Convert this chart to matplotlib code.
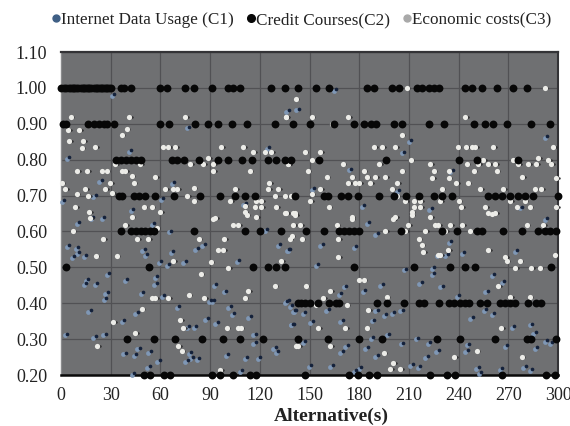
import numpy as np
import matplotlib
matplotlib.use("Agg")
import matplotlib.pyplot as plt
from matplotlib.lines import Line2D
from matplotlib.transforms import ScaledTranslation

plt.rcParams['font.family'] = ['Liberation Serif', 'DejaVu Serif']

# C2 is read row by row, the values sit on the grid
c2_100 = [0, 2, 3, 5, 6, 7, 8, 9, 10, 12, 13, 14, 15, 16, 17, 18, 20, 21, 22, 23, 24, 25, 26, 27, 28, 29, 30, 36, 38, 42,
          60, 64, 75, 80, 91, 101, 104, 108, 127, 135, 143, 154, 162, 185, 189, 200, 204, 215, 218, 222, 225, 228,
          244, 248, 254, 263, 273, 281]
c2_090 = [1, 3, 16, 20, 23, 26, 28, 32, 60, 65, 81, 89, 95, 103, 112, 129, 140, 150, 165, 177, 183, 187, 190,
          201, 206, 222, 231, 249, 256, 261, 269, 284, 295]
c2_080 = [33, 36, 39, 42, 45, 48, 67, 70, 74, 83, 95, 101, 109, 115, 125, 130, 135, 139, 156, 196, 240, 251, 276]
c2_070 = [35, 37, 44, 47, 51, 57, 68, 84, 96, 105, 111, 117, 141, 159, 161, 169, 173, 179, 192,
          201, 208, 216, 225, 230, 236, 258, 262, 266, 271, 276, 280, 285, 300]
c2_060 = [36, 42, 45, 48, 51, 54, 56, 80, 111, 120, 133, 148, 159, 168, 171, 174, 177, 180, 205, 230, 239,
          251, 254, 267, 278, 288, 292, 295, 299]
c2_050 = [3, 53, 116, 125, 130, 135, 177, 213, 235, 244, 250, 296]
c2_040 = [143, 145, 147, 150, 155, 162, 166, 168, 191, 197, 207, 216, 219, 228, 234, 237, 241, 244, 246,
          253, 257, 265, 268, 271, 274, 282, 287, 290]
c2_030 = [40, 56, 69, 85, 98, 108, 122, 143, 161, 180, 194, 227, 241, 262, 281, 284, 299]
c2_020 = [50, 54, 62, 66, 91, 96, 104, 114, 118, 147, 174, 179, 186, 191, 223, 233, 238, 266, 293, 298]

# C3 pale points
c3_pts = [(5.8, .919), (4.4, .884), (10.9, .884), (4.8, .852), (13.5, .852), (12.5, .833), (20.5, .835), (30, .9),
          (41, .919), (39.6, .886), (36.6, .868), (75, .919), (61.8, .835), (64.8, .835), (68.8, .835), (96.6, .835),
          (110, .835), (116, .82), (123, .82), (127, .82), (135.6, .92), (141.6, .968), (89, .805), (86, .787),
          (92, .787), (92, .768), (78, .787), (114, .768), (137, .787), (32.6, .787), (36.6, .768), (38.6, .768),
          (47.7, .787), (42.7, .755), (44, .736), (57, .753), (9.9, .768), (15.9, .768), (24.5, .768), (27.6, .768),
          (.4, .736), (2.4, .718), (9.5, .704), (14.5, .718), (16.5, .7), (29.6, .736), (26.5, .718), (31, .706),
          (62.8, .718), (67.8, .718), (70, .718), (76, .7), (80, .72), (80, .685), (102, .685), (105, .718),
          (118, .685), (121, .685), (117, .667), (121, .667), (125.7, .736), (125, .718), (131, .718), (129, .7),
          (135, .7), (139, .7), (130, .667), (135, .651), (140, .651), (8.5, .669), (50, .669), (54.7, .669),
          (17, .653), (60, .653), (42.7, .639), (111, .653), (111, .67), (118, .639), (92, .634),
          (136, .92), (151.4, .919), (173.5, .919), (163.5, .9), (208.7, 1.0), (292, 1.0), (205.7, .868), (189, .835),
          (194, .835), (201.7, .835), (239.5, .835), (244.6, .835), (248, .835), (250, .835), (261, .835), (297, .835),
          (244, .919), (147, .82), (156.4, .82), (151.4, .798), (137.3, .787), (170, .787), (192, .787), (211, .8),
          (222.8, .787), (245, .787), (255, .8), (252, .787), (258, .787), (262, .787), (273, .8), (276, .787),
          (282, .787), (287, .787), (288, .806), (294, .8), (296, .787), (149, .768), (160.5, .753), (175.5, .753),
          (182.6, .768), (184.6, .753), (189.6, .753), (195.7, .753), (205.7, .768), (225, .768), (224, .75),
          (234, .768), (234, .75), (238.5, .736), (245.6, .736), (249, .768), (263, .768), (278.5, .753), (299, .75),
          (173.5, .736), (177.5, .736), (180, .736), (186.6, .736), (203, .736), (156.4, .718), (151.4, .704),
          (150.4, .685), (199.7, .718), (229.9, .718), (253, .718), (267, .718), (286, .718), (290, .718), (202.7, .7),
          (207.7, .685), (212.8, .685), (216.8, .685), (212.8, .667), (216.8, .667), (211.8, .653), (228.9, .685),
          (240, .685), (241.5, .667), (271, .685), (280, .685), (275, .667), (283, .667), (256, .667), (161.5, .667),
          (258, .651), (262, .651), (136, .651), (141, .651), (299, .667), (222.8, .639), (175.5, .639), (201.7, .639),
          (7, .6), (17.5, .637), (25.5, .58), (38.6, .617), (46, .58), (52.7, .58), (57.7, .61), (93, .637),
          (104, .617), (107, .617), (112, .646), (83, .58), (98.4, .58), (95, .549), (98, .549), (138, .58), (140, .617),
          (21, .532), (33.6, .532), (67.8, .517), (90.3, .515), (101, .498), (133, .517), (84.3, .482), (129, .447),
          (54.7, .415), (56.7, .415), (64.8, .415), (77, .424), (86.3, .415), (113, .433), (111, .415), (48.7, .383),
          (31.6, .347), (71.8, .352), (73.8, .331), (100, .331), (107, .331), (108.5, .331), (44.7, .316), (22, .282),
          (70.8, .282), (72.8, .267), (96, .213), (142, .282),
          (141.3, .646), (144.4, .617), (139.3, .586), (145.4, .58), (166.5, .617), (167.5, .58), (175.5, .635),
          (200.7, .635), (195.7, .6), (211.8, .646), (209.7, .617), (207.7, .6), (219.8, .6), (215.8, .58), (217.8, .563),
          (218.8, .544), (225.8, .617), (227.8, .617), (231.9, .6), (234.9, .617), (233.9, .549), (242, .617), (247, .6),
          (258, .549), (260, .648), (281, .617), (291, .617), (167.5, .53), (227.5, .535), (228.9, .535), (268, .53),
          (269, .517), (277, .517), (274, .498), (284, .498), (289, .498), (298, .533), (147.8, .447), (182.6, .466),
          (180, .466), (162.5, .433), (158.4, .415), (153.8, .396), (172.5, .396), (196.7, .417), (264, .447), (271, .417),
          (283, .417), (185.6, .382), (155.4, .331), (171.5, .331), (184.6, .331), (265.7, .331), (143.3, .282),
          (162.5, .282), (194.7, .262), (251, .267), (237.5, .25), (278, .25), (200.7, .234), (198.7, .216), (204.7, .216)]

# C1 dark points with the blue rim
c1_pts = [(31.6, .981), (4.4, .806), (1.4, .685), (42, .824), (77, .89), (67.8, .736), (24, .741), (20.5, .7), (125, .833),
          (137, .935), (143, .94), (43, .659), (19, .637), (25.5, .637), (111, .676), (61, .69),
          (165.5, .995), (293, .863), (210.8, .852), (206.7, .82), (174.5, .773), (152.4, .718), (203.7, .713),
          (235.9, .768), (182.6, .672), (223.2, .663), (278, .667), (292.8, .634),
          (10.5, .623), (55.7, .62), (65.8, .6), (4.4, .56), (9.9, .554), (10.5, .54), (7.4, .53), (14.5, .532),
          (86.3, .563), (82, .552), (131.8, .563), (138, .549), (124, .605), (50, .549), (51.7, .535), (67.2, .542),
          (59.8, .515), (64.8, .507), (74.8, .515), (107, .519), (15.9, .466), (14.5, .454), (21.5, .454), (28.6, .482),
          (39.6, .466), (57.7, .473), (57.3, .454), (27.6, .429), (26.6, .413), (49.3, .429), (61.8, .42), (70.8, .39),
          (93, .45), (99, .433), (92, .406), (90, .406), (102, .39), (104, .371), (17.5, .378), (45.7, .373), (88, .356),
          (94, .345), (114, .361), (37.6, .35), (81, .333), (77, .333), (136, .404), (139, .392), (141, .378), (140, .341),
          (3.4, .313), (20.5, .306), (26.5, .313), (117, .313), (117, .29), (47, .274), (44.7, .257), (38.6, .26),
          (53.7, .264), (59, .239), (53, .223), (43.7, .202), (78, .262), (79, .248), (76, .239), (83, .245), (100.6, .256),
          (112, .248), (119.7, .248), (129, .276), (130.6, .265), (109, .211),
          (137.3, .549), (157.4, .563), (177.5, .558), (185.6, .623), (190.6, .593), (154.8, .506), (207.7, .494),
          (224.8, .498), (224.8, .482), (234.9, .57), (227.8, .533), (232.9, .535), (243, .54), (275, .546), (171.5, .447),
          (168.5, .426), (183.2, .435), (193.6, .452), (217.2, .456), (229.9, .447), (257, .433), (261, .48), (267, .459),
          (137, .406), (141.3, .378), (147, .373), (161, .382), (190.6, .38), (195.7, .367), (200.7, .373), (205.7, .38),
          (188.6, .352), (169.5, .35), (151.4, .348), (139.7, .341), (248, .359), (256, .382), (261, .371), (273, .333),
          (284, .341), (286, .318), (197.7, .313), (188, .304), (184.6, .276), (172.5, .28), (169.5, .265), (147, .293),
          (206, .288), (215.2, .302), (222.4, .29), (269, .282), (287, .276), (293, .294), (296, .29), (246, .285),
          (245, .267), (227.5, .267), (220.8, .251), (190.6, .253), (150.4, .225), (163.5, .225), (180.6, .22),
          (177.5, .211), (211.8, .228), (216.4, .223), (251.6, .22), (253, .205), (266, .218), (280, .223), (284, .214),
          (240, .42)]

fig = plt.figure(figsize=(5.7, 4.26), dpi=100)
ax = fig.add_axes([61 / 570, 1 - 375 / 426, 497 / 570, 323 / 426])
ax.set_facecolor('#6f7072')

ax.set_xlim(0, 300)
ax.set_ylim(0.20, 1.10)
ax.set_xticks(np.arange(0, 301, 30))
ax.set_yticks(np.arange(0.2, 1.11, 0.1))
ax.set_yticklabels(['%.2f' % v for v in np.arange(0.2, 1.11, 0.1)])
ax.grid(True, color='#515154', lw=0.9)
ax.set_axisbelow(True)
ax.tick_params(length=0, labelsize=13, colors='#222222')
ax.tick_params(axis='y', pad=10)
ax.tick_params(axis='x', pad=9)
for side, col, w in [('top', '#333336', 1.6), ('bottom', '#0a0a0a', 1.8), ('right', '#333336', 1.5), ('left', '#8a8b8d', 1.0)]:
    ax.spines[side].set_color(col)
    ax.spines[side].set_linewidth(w)
ax.set_xlabel('Alternative(s)', fontsize=14, fontweight='bold', color='#222222')
ax.xaxis.set_label_coords(0.543, -0.1)


def shifted(dx, dy):
    # marks in the reference are a pale blob with a dark dot next to it
    return ax.transData + ScaledTranslation(dx / 100, dy / 100, fig.dpi_scale_trans)


c1_x, c1_y = np.array(c1_pts).T
c3_x, c3_y = np.array(c3_pts).T
ax.scatter(c1_x, c1_y, s=12, c='#7f97b5', linewidths=0, clip_on=False, zorder=3, transform=shifted(-1.5, -1))
ax.scatter(c1_x, c1_y, s=7, c='#14213a', linewidths=0, clip_on=False, zorder=3, transform=shifted(0.8, 0.8))
ax.scatter(c3_x, c3_y, s=3, c='#2a2a2c', linewidths=0, clip_on=False, zorder=3, transform=shifted(2.6, 0))
ax.scatter(c3_x, c3_y, s=14, c='#ecece8', linewidths=0, clip_on=False, zorder=3, transform=shifted(0, 0))

c2_rows = [(1.0, c2_100), (0.9, c2_090), (0.8, c2_080), (0.7, c2_070), (0.6, c2_060),
           (0.5, c2_050), (0.4, c2_040), (0.3, c2_030), (0.2, c2_020)]
c2_x = [x for v, row in c2_rows for x in row]
c2_y = [v for v, row in c2_rows for x in row]
ax.scatter(c2_x, c2_y, s=32, c='#070707', linewidths=0, clip_on=False, zorder=4)

handles = [Line2D([], [], ls='', marker='o', ms=5, color='#3f5f85'),
           Line2D([], [], ls='', marker='o', ms=5.5, color='#070707'),
           Line2D([], [], ls='', marker='o', ms=5, color='#a9a9a9')]
fig.legend(handles, ['Internet Data Usage (C1)', 'Credit Courses(C2)', 'Economic costs(C3)'],
           loc='upper center', bbox_to_anchor=(0.528, 0.995), ncol=3, frameon=False, fontsize=12.3,
           handlelength=0.6, handletextpad=0.0, columnspacing=0.7, labelcolor='#222222', borderaxespad=0.2)

fig.savefig('out.png', dpi=100)
